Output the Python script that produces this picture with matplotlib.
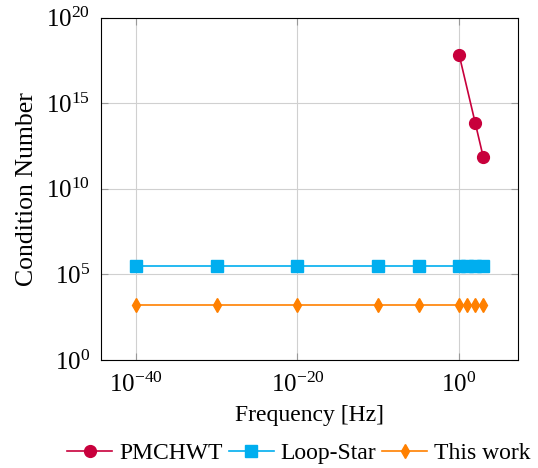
import numpy as np
import matplotlib.pyplot as plt

plt.rcParams['font.family'] = 'Liberation Serif'
plt.rcParams['mathtext.fontset'] = 'stix'

# data
freq_pm = [1e0, 1e2, 1e3]
cond_pm = [7e17, 7e13, 6.8e11]
freq = [1e-40, 1e-30, 1e-20, 1e-10, 1e-5, 1e0, 1e1, 1e2, 1e3]
cond_ls = [2.9e5] * 9
cond_tw = [1.6e3] * 9

fig = plt.figure(figsize=(5.38, 4.68), dpi=100)
ax = fig.add_axes([0.188, 0.231, 0.775, 0.731])

ax.plot(freq_pm, cond_pm, '-o', color='#C8003C', lw=1.2, ms=8.5, label='PMCHWT')
ax.plot(freq, cond_ls, '-s', color='#00AEEF', lw=1.2, ms=8.5, label='Loop-Star')
ax.plot(freq, cond_tw, '-d', color='#FF8000', lw=1.2, ms=7.5, label='This work')

ax.set_xscale('log')
ax.set_yscale('log')
ax.set_xlim(10**-44.3, 10**7.3)
ax.set_ylim(1e0, 1e20)
ax.set_xticks([1e-40, 1e-20, 1e0])
ax.set_yticks([1e0, 1e5, 1e10, 1e15, 1e20])
ax.minorticks_off()
ax.grid(True, color='#d0d0d0', lw=0.8)
ax.tick_params(direction='in', top=True, right=True, length=5, color='#999999', labelsize=18)
ax.tick_params(axis='x', pad=9)
ax.tick_params(axis='y', pad=8)
for s in ax.spines.values():
    s.set_linewidth(0.8)

ax.set_xlabel('Frequency [Hz]', fontsize=17, labelpad=6)
ax.set_ylabel('Condition Number', fontsize=18.5, labelpad=6)

fig.legend(loc='center', bbox_to_anchor=(0.556, 0.032), ncol=3, frameon=False,
           fontsize=17, handlelength=1.9, columnspacing=0.25, handletextpad=0.3,
           borderaxespad=0)

plt.savefig('out.png', dpi=100)
